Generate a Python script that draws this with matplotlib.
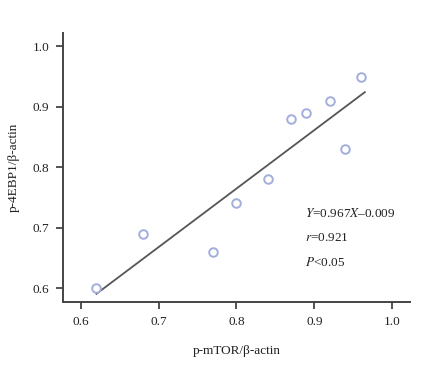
import numpy as np
import matplotlib.pyplot as plt

plt.rcParams['font.family'] = ['Liberation Serif', 'DejaVu Serif']
plt.rcParams['mathtext.fontset'] = 'stix'

# data
mtor = [0.62, 0.68, 0.77, 0.80, 0.84, 0.87, 0.89, 0.92, 0.94, 0.96]
ebp1 = [0.60, 0.69, 0.66, 0.74, 0.78, 0.88, 0.89, 0.91, 0.83, 0.95]
slope = 0.967
intercept = -0.009
xticks = [0.6, 0.7, 0.8, 0.9, 1.0]
yticks = [0.6, 0.7, 0.8, 0.9, 1.0]

fig = plt.figure(figsize=(4.42, 3.70), dpi=100)
ax = fig.add_axes([0.1425, 0.1838, 0.785, 0.727])

# fit line
xl = np.array([min(mtor), max(mtor) + 0.005])
ax.plot(xl, slope * xl + intercept, color='#555555', lw=1.3, zorder=2)
ax.scatter(mtor, ebp1, s=38, facecolors='white', edgecolors='#a3aedb',
           linewidths=1.4, zorder=3)

ax.set_xlim(0.577, 1.023)
ax.set_ylim(0.577, 1.022)
ax.set_xticks(xticks)
ax.set_yticks(yticks)
ax.set_xticklabels(['%.1f' % v for v in xticks])
ax.set_yticklabels(['%.1f' % v for v in yticks])
for s in ['top', 'right']:
    ax.spines[s].set_visible(False)
for s in ['left', 'bottom']:
    ax.spines[s].set_color('#444444')
    ax.spines[s].set_linewidth(1.4)
ax.tick_params(direction='out', length=5, width=1.3, color='#444444',
               labelsize=9.5, labelcolor='#222222', pad=5)

ax.set_xlabel('p-mTOR/β-actin', fontsize=9.5, labelpad=12, color='#222222')
ax.set_ylabel('p-4EBP1/β-actin', fontsize=9.5, labelpad=9, color='#222222')

ax.text(0.888, 0.724, r'$Y$=0.967$X$–0.009', fontsize=9.5, color='#222222',
        va='center')
ax.text(0.888, 0.683, r'$r$=0.921', fontsize=9.5, color='#222222', va='center')
ax.text(0.888, 0.643, r'$P$<0.05', fontsize=9.5, color='#222222', va='center')

fig.savefig('out.png', dpi=100)
